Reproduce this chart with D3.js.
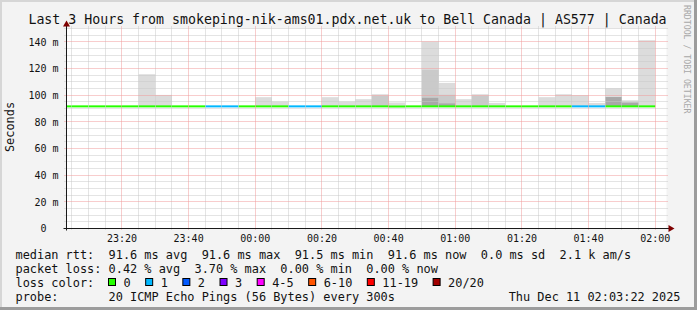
<!DOCTYPE html>
<html>
<head>
<meta charset="utf-8">
<script src="https://cdn.jsdelivr.net/npm/d3@7"></script>
<style>
  body { margin: 0; background: #f3f3f3; }
  svg { display: block; font-family: "DejaVu Sans Mono", monospace; }
</style>
</head>
<body>
<svg id="chart" width="697" height="310"></svg>
<script>
// ---- data ----
const title = "Last 3 Hours from smokeping-nik-ams01.pdx.net.uk to Bell Canada | AS577 | Canada";
const yLabel = "Seconds";
const yTicks = [0, 20, 40, 60, 80, 100, 120, 140];

// median rtt + loss per 5 min step (23:00 .. 01:55)
const binStarts = [
  "23:00", "23:05", "23:10", "23:15", "23:20", "23:25", "23:30", "23:35", "23:40", "23:45", "23:50", "23:55",
  "00:00", "00:05", "00:10", "00:15", "00:20", "00:25", "00:30", "00:35", "00:40", "00:45", "00:50", "00:55",
  "01:00", "01:05", "01:10", "01:15", "01:20", "01:25", "01:30", "01:35", "01:40", "01:45", "01:50", "01:55"
];
const medianMs = [
  91.6, 91.6, 91.6, 91.6, 91.6, 91.6, 91.6, 91.6, 91.6, 91.6, 91.6, 91.6,
  91.6, 91.6, 91.6, 91.6, 91.6, 91.6, 91.6, 91.6, 91.5, 91.6, 91.6, 91.6,
  91.6, 91.6, 91.6, 91.6, 91.6, 91.6, 91.6, 91.6, 91.6, 91.6, 91.6, 91.6
];
const lossCount = [
  0, 0, 0, 0, 0, 0, 0, 0, 0, 1, 1, 0,
  0, 0, 1, 1, 0, 0, 0, 0, 0, 0, 0, 0,
  0, 0, 0, 0, 0, 0, 0, 1, 1, 0, 0, 0
];

// smoke (ping spread) per step, in ms
const smokeStarts = ["23:25", "23:30", "00:00", "00:05", "00:20", "00:25", "00:30", "00:35", "00:40", "00:50", "00:55",
                     "01:00", "01:05", "01:10", "01:25", "01:30", "01:35", "01:40", "01:45", "01:50", "01:55"];
const smokeMin  = [91.3, 91.3, 91.3, 91.3, 91.3, 91.3, 91.3, 91.3, 91.3, 91.2, 91.3,
                   91.3, 91.3, 91.3, 91.3, 91.3, 91.3, 91.3, 91.3, 91.3, 91.3];
const smokeMax  = [115.7, 100.2, 98.5, 95.2, 98.5, 95.2, 97.0, 100.7, 94.5, 140.3, 109.2,
                   97.0, 100.7, 94.2, 98.5, 100.7, 100.0, 94.2, 105.2, 96.2, 141.2];
const smokeMid  = [null, null, null, null, null, null, null, 99.5, null, 119.0, 100.3,
                   null, 99.5, null, null, null, null, null, null, null, null];
const smokeCore = [null, null, null, null, null, null, null, null, null, 98.0, 93.8,
                   null, null, null, null, null, null, null, 98.6, 94.5, null];

// legend
const lossLabels = ["0", "1", "2", "3", "4-5", "6-10", "11-19", "20/20"];
const lossColors = ["#26ff00", "#00b8ff", "#0059ff", "#7e00ff", "#ff00ff", "#ff5500", "#ff0000", "#a10000"];
const rttStats = ["91.6 ms avg", "91.6 ms max", "91.5 ms min", "91.6 ms now", "0.0 ms sd", "2.1 k am/s"];
const lossStats = ["0.42 % avg", "3.70 % max", "0.00 % min", "0.00 % now"];
const probeText = "20 ICMP Echo Pings (56 Bytes) every 300s";
const stampText = "Thu Dec 11 02:03:22 2025";

// ---- layout ----
const W = 697, H = 310;
const PLOT = { left: 66.5, right: 666.5, top: 28.5, bottom: 228.5 };
const ROW = [258.5, 272.5, 286.5, 300.5];
const LEG_X = 15.5;

const svg = d3.select("#chart");
const nb = (s) => s.replace(/ /g, "\u00a0"); // keep the monospace columns

const toDate = (s) => {
  const [h, m] = s.split(":").map(Number);
  return new Date(Date.UTC(2025, 11, h >= 12 ? 10 : 11, h, m, 0));
};
const start = new Date(Date.UTC(2025, 11, 10, 23, 3, 22));
const end = new Date(Date.UTC(2025, 11, 11, 2, 3, 22));
const step = 5 * 60 * 1000;

const x = d3.scaleUtc().domain([start, end]).range([PLOT.left, PLOT.right]);
const y = d3.scaleLinear().domain([0, 150]).range([PLOT.bottom, PLOT.top]);
const crisp = (v) => Math.round(v - 0.5) + 0.5;

// background + frame
svg.append("rect").attr("width", W).attr("height", H).attr("fill", "#f3f3f3");
svg.append("rect").attr("x", 0).attr("y", 0).attr("width", W).attr("height", 2).attr("fill", "#d6d6d6");
svg.append("rect").attr("x", 0).attr("y", 0).attr("width", 2).attr("height", H).attr("fill", "#d6d6d6");
svg.append("rect").attr("x", W - 3).attr("y", 0).attr("width", 3).attr("height", H).attr("fill", "#9c9c9c");
svg.append("rect").attr("x", 0).attr("y", H - 3).attr("width", W).attr("height", 3).attr("fill", "#9c9c9c");

// canvas
svg.append("rect")
  .attr("x", PLOT.left).attr("y", PLOT.top)
  .attr("width", PLOT.right - PLOT.left).attr("height", PLOT.bottom - PLOT.top)
  .attr("fill", "#ffffff");

svg.append("clipPath").attr("id", "plotclip")
  .append("rect")
  .attr("x", PLOT.left).attr("y", PLOT.top - 1)
  .attr("width", PLOT.right - PLOT.left).attr("height", PLOT.bottom - PLOT.top + 1);

const plot = svg.append("g").attr("clip-path", "url(#plotclip)");

// smoke layers
const smoke = smokeStarts.map((s, i) => ({
  t0: toDate(s), lo: smokeMin[i], hi: smokeMax[i], mid: smokeMid[i], core: smokeCore[i]
}));
const smokeLayer = (key, color) => {
  plot.append("g").selectAll("rect")
    .data(smoke.filter((d) => d[key] != null))
    .join("rect")
    .attr("x", (d) => x(d.t0))
    .attr("width", (d) => x(new Date(+d.t0 + step)) - x(d.t0))
    .attr("y", (d) => y(d[key]))
    .attr("height", (d) => y(d.lo) - y(d[key]))
    .attr("fill", color);
};
smokeLayer("hi", "#dcdcdc");
smokeLayer("mid", "#cacaca");
smokeLayer("core", "#a8a8a8");

// grid
const grid = svg.append("g");
const minorTimes = d3.utcMinute.every(5).range(start, end).filter((d) => d.getUTCMinutes() % 20 !== 0);
const majorTimes = d3.utcMinute.every(20).range(start, end);
const minorMs = d3.range(5, 151, 5).filter((v) => v % 20 !== 0);
const majorMs = yTicks.filter((v) => v > 0);

const vLines = (data, color) => grid.append("g").selectAll("line").data(data).join("line")
  .attr("x1", (d) => crisp(x(d))).attr("x2", (d) => crisp(x(d)))
  .attr("y1", PLOT.top - 2).attr("y2", PLOT.bottom + 2)
  .attr("stroke", color).attr("stroke-dasharray", "1,1");
const hLines = (data, color) => grid.append("g").selectAll("line").data(data).join("line")
  .attr("y1", (d) => crisp(y(d))).attr("y2", (d) => crisp(y(d)))
  .attr("x1", PLOT.left - 2).attr("x2", PLOT.right + 2)
  .attr("stroke", color).attr("stroke-dasharray", "1,1");
vLines(minorTimes, "#c8c8c8");
hLines(minorMs, "#c8c8c8");
vLines(majorTimes, "#f09a9a");
hLines(majorMs, "#f09a9a");

// median line coloured by loss
plot.append("g").selectAll("rect")
  .data(binStarts.map((s, i) => ({ t0: toDate(s), v: medianMs[i], loss: lossCount[i] })))
  .join("rect")
  .attr("x", (d) => x(d.t0))
  .attr("width", (d) => x(new Date(+d.t0 + step)) - x(d.t0))
  .attr("y", (d) => y(d.v) - 1)
  .attr("height", 2)
  .attr("fill", (d) => lossColors[Math.min(d.loss, 7)]);

// axes
svg.append("line")
  .attr("x1", PLOT.left - 3).attr("x2", PLOT.right + 3)
  .attr("y1", PLOT.bottom).attr("y2", PLOT.bottom)
  .attr("stroke", "#1a1a1a");
svg.append("line")
  .attr("x1", PLOT.left).attr("x2", PLOT.left)
  .attr("y1", PLOT.bottom + 2).attr("y2", PLOT.top - 4)
  .attr("stroke", "#1a1a1a");
svg.append("path")
  .attr("d", `M${PLOT.right + 2},${PLOT.bottom - 3.5}L${PLOT.right + 8},${PLOT.bottom}L${PLOT.right + 2},${PLOT.bottom + 3.5}Z`)
  .attr("fill", "#7f0000");
svg.append("path")
  .attr("d", `M${PLOT.left - 3.5},${PLOT.top - 2}L${PLOT.left},${PLOT.top - 8}L${PLOT.left + 3.5},${PLOT.top - 2}Z`)
  .attr("fill", "#7f0000");

// tick labels
svg.append("g").selectAll("text").data(majorTimes).join("text")
  .attr("x", (d) => x(d)).attr("y", 241.5)
  .attr("text-anchor", "middle")
  .attr("font-size", 10).attr("fill", "#111")
  .text(d3.utcFormat("%H:%M"));

svg.append("g").selectAll("text").data(yTicks).join("text")
  .attr("x", 58.5).attr("y", (d) => y(d) + 3.8)
  .attr("text-anchor", "end")
  .attr("font-size", 10).attr("fill", "#111")
  .text((d) => nb(d === 0 ? "0  " : d + " m"));

svg.append("text")
  .attr("transform", "translate(13.5,127) rotate(-90)")
  .attr("text-anchor", "middle")
  .attr("font-size", 11.9).attr("fill", "#111")
  .text(yLabel);

// title
svg.append("text")
  .attr("x", 347.5).attr("y", 24)
  .attr("text-anchor", "middle")
  .attr("font-size", 13.25).attr("fill", "#111")
  .text(title);

// watermark
svg.append("text")
  .attr("transform", "translate(684,5) rotate(90)")
  .attr("font-size", 8.2).attr("fill", "#a8a8a8")
  .text("RRDTOOL / TOBI OETIKER");

// legend (monospace columns, two spaces between fields like rrdtool)
const legend = svg.append("g").attr("font-size", 11.9).attr("fill", "#111");
legend.append("text").attr("x", LEG_X).attr("y", ROW[0])
  .text(nb("median rtt:  " + rttStats.join("  ")));
legend.append("text").attr("x", LEG_X).attr("y", ROW[1])
  .text(nb("packet loss: " + lossStats.join("  ")));
legend.append("text").attr("x", LEG_X).attr("y", ROW[2]).text(nb("loss color:"));
legend.append("text").attr("x", LEG_X).attr("y", ROW[3]).text(nb("probe:       " + probeText));
legend.append("text").attr("x", 680.5).attr("y", ROW[3]).attr("text-anchor", "end").text(nb(stampText));

let lx = 108.5;
lossLabels.forEach((lab, i) => {
  legend.append("rect")
    .attr("x", lx).attr("y", 278.5).attr("width", 7).attr("height", 7)
    .attr("fill", lossColors[i]).attr("stroke", "#000").attr("stroke-width", 1);
  const t = legend.append("text").attr("x", lx + 15).attr("y", ROW[2]).text(lab);
  lx = lx + 15 + t.node().getComputedTextLength() + 15;
});
</script>
</body>
</html>
